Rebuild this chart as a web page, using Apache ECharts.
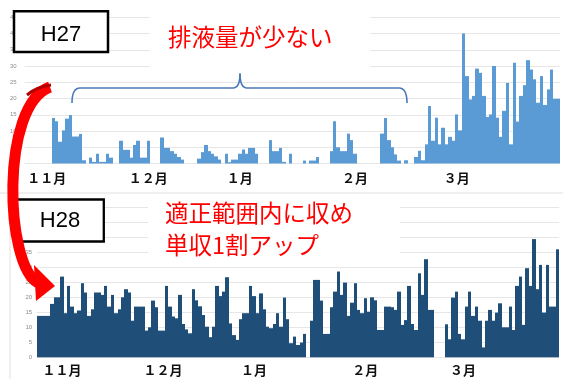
<!DOCTYPE html>
<html>
<head>
<meta charset="utf-8">
<script src="https://cdn.jsdelivr.net/npm/echarts@6/dist/echarts.min.js"></script>
<style>
html,body{margin:0;padding:0;background:#fff;}
#c{width:563px;height:379px;}
</style>
</head>
<body>
<div id="c"></div>
<script>
// ---- tick labels ----
const monthLabels = ['１１月', '１２月', '１月', '２月', '３月'];
const h27MonthAt = [6, 36, 63, 97, 127];   // category index carrying each month label (H27)
const h28MonthAt = [7, 37, 64, 97, 126];   // category index carrying each month label (H28)

// ---- H27 daily values (8 empty days before the first bar) ----
const h27Lead = [null, null, null, null, null, null, null, null];
const h27Values = [
  14, 13, 6.7, 10.2, 13.8, 14.9, 8.3, 8.3, 9.1, 1,
  0, 1.8, 0.5, 3, 0.5, 0.5, 3, 1.8, 0, 0,
  7, 4.2, 4.2, 1.8, 5.7, 7, 1.8, 1.8, 7, 0,
  0, 0, 8, 4.8, 4.8, 3.8, 3, 2, 1.2, 0,
  0, 0, 0, 1.5, 3.5, 5.7, 3.8, 3, 2.2, 1.2,
  0, 3, 0.4, 1.2, 1.2, 3, 4.3, 3, 4.8, 4.8,
  3, 0, 0, 0, 7.2, 3.8, 3.8, 4.8, 0.5, 0,
  3, 0, 0, 0, 0.9, 0, 0.9, 0.9, 2, 0,
  0, 0, 3.8, 13, 5, 3.8, 3.8, 9.2, 7.2, 3,
  0, 0, 0, 0, 0, 0, 0, 9.2, 14, 7.2,
  5, 2.8, 0.9, 0, 1, 0, 0, 2, 3.9, 1,
  5.9, 17.7, 7, 14.1, 5.9, 11, 5.9, 8.2, 7, 15.1,
  10.2, 40, 26.9, 19.7, 20.8, 29.2, 27.9, 20.8, 14.3, 15.1,
  30, 14.1, 8.2, 16.2, 24.8, 5.9, 31, 12.9, 20.8, 24.1,
  31.8, 28.9, 25.9, 18.7, 26.9, 18, 22.8, 28.9, 19.9, 19.9
];

// ---- H28 daily values, three pasted panels ----
const h28Panel1 = [
  13.8, 13.8, 13.8, 13.8, 17.8, 20, 20, 26.9, 14.7, 23.8,
  16.9, 14.7, 15.6, 24.7, 21.6, 13.8, 16, 21.6, 21.6, 20.8,
  23.8, 16.9, 20.8, 14.7, 16, 20, 22.7, 21.6, 12.2, 16.9,
  16.9, 16.9, 8.9, 10, 18.9, 16.7, 8.9, 8.9, 23.8, 16.9,
  13.6, 13, 20.8, 11.1, 9.3, 8, 22.7, 19, 17, 14.1,
  10.2, 6.7, 10.2, 23.8, 20.4, 21.9, 26.7, 11.3, 7.4, 5.8,
  12.7, 14.7, 14.7, 23.8, 20.4, 14.7, 21.3, 16, 10.2, 9.7,
  11.1, 14.7, 10.2, 19.9, 12.7, 4.7, 6.9, 4.1, 4.9, 7.8
];
const h28Gap1 = [null];
const h28Panel2 = [
  12.2, 25.8, 25.8, 18.9, 7.8, 7.8, 16.7, 21.9, 28.6, 20.8,
  24.9, 13.8, 18.2, 24.7, 15.8, 14.7, 19.7, 15.2, 20, 19,
  9.1, 9.1, 16.9, 16.9, 16.7, 15.8, 21.9, 10.8, 12.4, 23.8,
  11.1, 9.1, 28, 20.8, 32.7, 15.8, 15.8
];
const h28Gap2 = [null, null, null];
const h28Panel3 = [
  11, 6, 19.9, 21.9, 7.8, 6, 16.9, 21.9, 13.8, 16.9,
  12.2, 3.3, 12.2, 15.8, 12.2, 14.9, 18, 10, 10, 16.9,
  9.1, 23.8, 26.9, 10.8, 29.7, 23.8, 39.4, 22.7, 30.8, 14.9,
  30.8, 16.9, 16.9, 36
];

const topSeries = h27Lead.concat(h27Values);
const bottomSeries = h28Panel1.concat(h28Gap1, h28Panel2, h28Gap2, h28Panel3);
const topDays = topSeries.map((_, i) => 'd' + i);
const bottomDays = bottomSeries.map((_, i) => 'd' + i);

const cjk = '"Noto Sans CJK JP", "Noto Sans CJK SC", sans-serif';

function monthAxis(days, monthAt, gridIndex, margin) {
  return {
    type: 'category', gridIndex: gridIndex, data: days, boundaryGap: true,
    axisLine: { show: false }, axisTick: { show: false }, splitLine: { show: false },
    axisLabel: {
      interval: (i) => monthAt.indexOf(i) >= 0,
      formatter: (v, i) => { const p = monthAt.indexOf(i); return p >= 0 ? monthLabels[p] : ''; },
      hideOverlap: false, margin: margin, alignMinLabel: 'center', alignMaxLabel: 'center',
      fontSize: 13, fontWeight: 'bold', color: '#111', fontFamily: cjk
    }
  };
}
function countAxis(gridIndex, max, margin) {
  return {
    type: 'value', gridIndex: gridIndex, min: 0, max: max, interval: 5,
    axisLine: { show: false }, axisTick: { show: false },
    axisLabel: { fontSize: 6, color: '#8c8c8c', margin: margin, fontFamily: 'Liberation Sans' },
    splitLine: { lineStyle: { color: '#e6e6e6', width: 1 } }
  };
}

// bars drawn through the axes' own scales (api.coord / api.size), one band-wide column per day,
// edges snapped to whole pixels so neighbouring columns join without seams
function columnSeries(data, xi, yi, color) {
  return {
    type: 'custom', xAxisIndex: xi, yAxisIndex: yi, silent: true, clip: false,
    data: data.map((v, i) => [i, v]),
    renderItem: function (params, api) {
      const v = api.value(1);
      if (v === null || v === undefined || isNaN(v) || v <= 0) return null;
      const top = api.coord([api.value(0), v]);
      const base = api.coord([api.value(0), 0]);
      const band = api.size([1, 0])[0];
      const x0 = Math.round(top[0] - band / 2);
      const x1 = Math.round(top[0] + band / 2);
      return {
        type: 'rect',
        shape: { x: x0, y: top[1], width: x1 - x0, height: base[1] - top[1] },
        style: { fill: color }
      };
    }
  };
}

function seg(x1, y1, x2, y2, stroke, lw, z) {
  return { type: 'line', z: z, silent: true, shape: { x1: x1, y1: y1, x2: x2, y2: y2 }, style: { stroke: stroke, lineWidth: lw } };
}
function curve(x1, y1, cx1, cy1, cx2, cy2, x2, y2, stroke, lw, z) {
  const shape = { x1: x1, y1: y1, x2: x2, y2: y2, cpx1: cx1, cpy1: cy1 };
  if (cx2 !== null) { shape.cpx2 = cx2; shape.cpy2 = cy2; }
  return { type: 'bezierCurve', z: z, silent: true, shape: shape, style: { fill: null, stroke: stroke, lineWidth: lw } };
}

const braceColor = '#4a78b8';
const chart = echarts.init(document.getElementById('c'), null, { renderer: 'canvas' });
chart.setOption({
  animation: false,
  backgroundColor: '#ffffff',
  grid: [
    { left: 24.6, top: 17.25, width: 535.5, height: 146.25, containLabel: false, outerBoundsMode: 'none' },
    { left: 36.7, top: 207.3, width: 522.4, height: 150, containLabel: false, outerBoundsMode: 'none' }
  ],
  xAxis: [monthAxis(topDays, h27MonthAt, 0, 8.5), monthAxis(bottomDays, h28MonthAt, 1, 6.5)],
  yAxis: [countAxis(0, 45, 8), countAxis(1, 50, 4.5)],
  series: [
    columnSeries(topSeries, 0, 0, '#5b9bd5'),
    columnSeries(bottomSeries, 1, 1, '#1f4e79')
  ],
  graphic: [
    seg(0, 193, 563, 193, '#e0e0e0', 1, 90),
    seg(10, 193, 10, 379, '#e0e0e0', 1, 90),
    // white text boxes hiding gridlines
    { type: 'rect', z: 100, silent: true, shape: { x: 150, y: 3, width: 220, height: 69 }, style: { fill: '#ffffff' } },
    { type: 'rect', z: 100, silent: true, shape: { x: 148, y: 196, width: 252, height: 64 }, style: { fill: '#ffffff' } },
    // H27 / H28 boxes
    { type: 'rect', z: 101, silent: true, shape: { x: 14, y: 11.3, width: 94, height: 40.7 }, style: { fill: '#ffffff', stroke: '#000', lineWidth: 2.5 } },
    { type: 'text', z: 102, silent: true, style: { text: 'H27', x: 61, y: 35, fill: '#000', fontSize: 22, fontFamily: 'Liberation Sans', textAlign: 'center', textVerticalAlign: 'middle' } },
    { type: 'rect', z: 101, silent: true, shape: { x: 16.2, y: 199.5, width: 87.6, height: 42 }, style: { fill: '#ffffff', stroke: '#000', lineWidth: 2.3 } },
    { type: 'text', z: 102, silent: true, style: { text: 'H28', x: 60, y: 221, fill: '#000', fontSize: 22, fontFamily: 'Liberation Sans', textAlign: 'center', textVerticalAlign: 'middle' } },
    // red annotations
    { type: 'text', z: 102, silent: true, style: { text: '排液量が少ない', x: 168, y: 37.5, fill: '#ff0000', fontSize: 23.5, fontFamily: cjk, textAlign: 'left', textVerticalAlign: 'middle' } },
    { type: 'text', z: 102, silent: true, style: { text: '適正範囲内に収め', x: 165, y: 213.5, fill: '#ff0000', fontSize: 23.5, fontFamily: cjk, textAlign: 'left', textVerticalAlign: 'middle' } },
    { type: 'text', z: 102, silent: true, style: { text: '単収1割アップ', x: 165, y: 245, fill: '#ff0000', fontSize: 23.5, fontFamily: cjk, textAlign: 'left', textVerticalAlign: 'middle' } },
    // brace
    curve(72, 103, 72, 88, null, null, 80, 88, braceColor, 1.6, 102),
    seg(80, 88, 233, 88, braceColor, 1.6, 102),
    curve(233, 88, 240, 88, null, null, 240, 73.5, braceColor, 1.6, 102),
    curve(240, 73.5, 240, 88, null, null, 247, 88, braceColor, 1.6, 102),
    seg(247, 88, 399, 88, braceColor, 1.6, 102),
    curve(399, 88, 407, 88, null, null, 407, 103, braceColor, 1.6, 102),
    // red curved arrow
    curve(50, 87, 0, 105, 5, 265, 38, 283, '#ff0000', 11, 110),
    curve(51, 85, 42, 86, 34, 89, 27, 95, '#b30000', 3, 111),
    { type: 'polygon', z: 111, silent: true, shape: { points: [[34, 265], [36, 301], [55, 286]] }, style: { fill: '#ff0000' } }
  ]
});
</script>
</body>
</html>
